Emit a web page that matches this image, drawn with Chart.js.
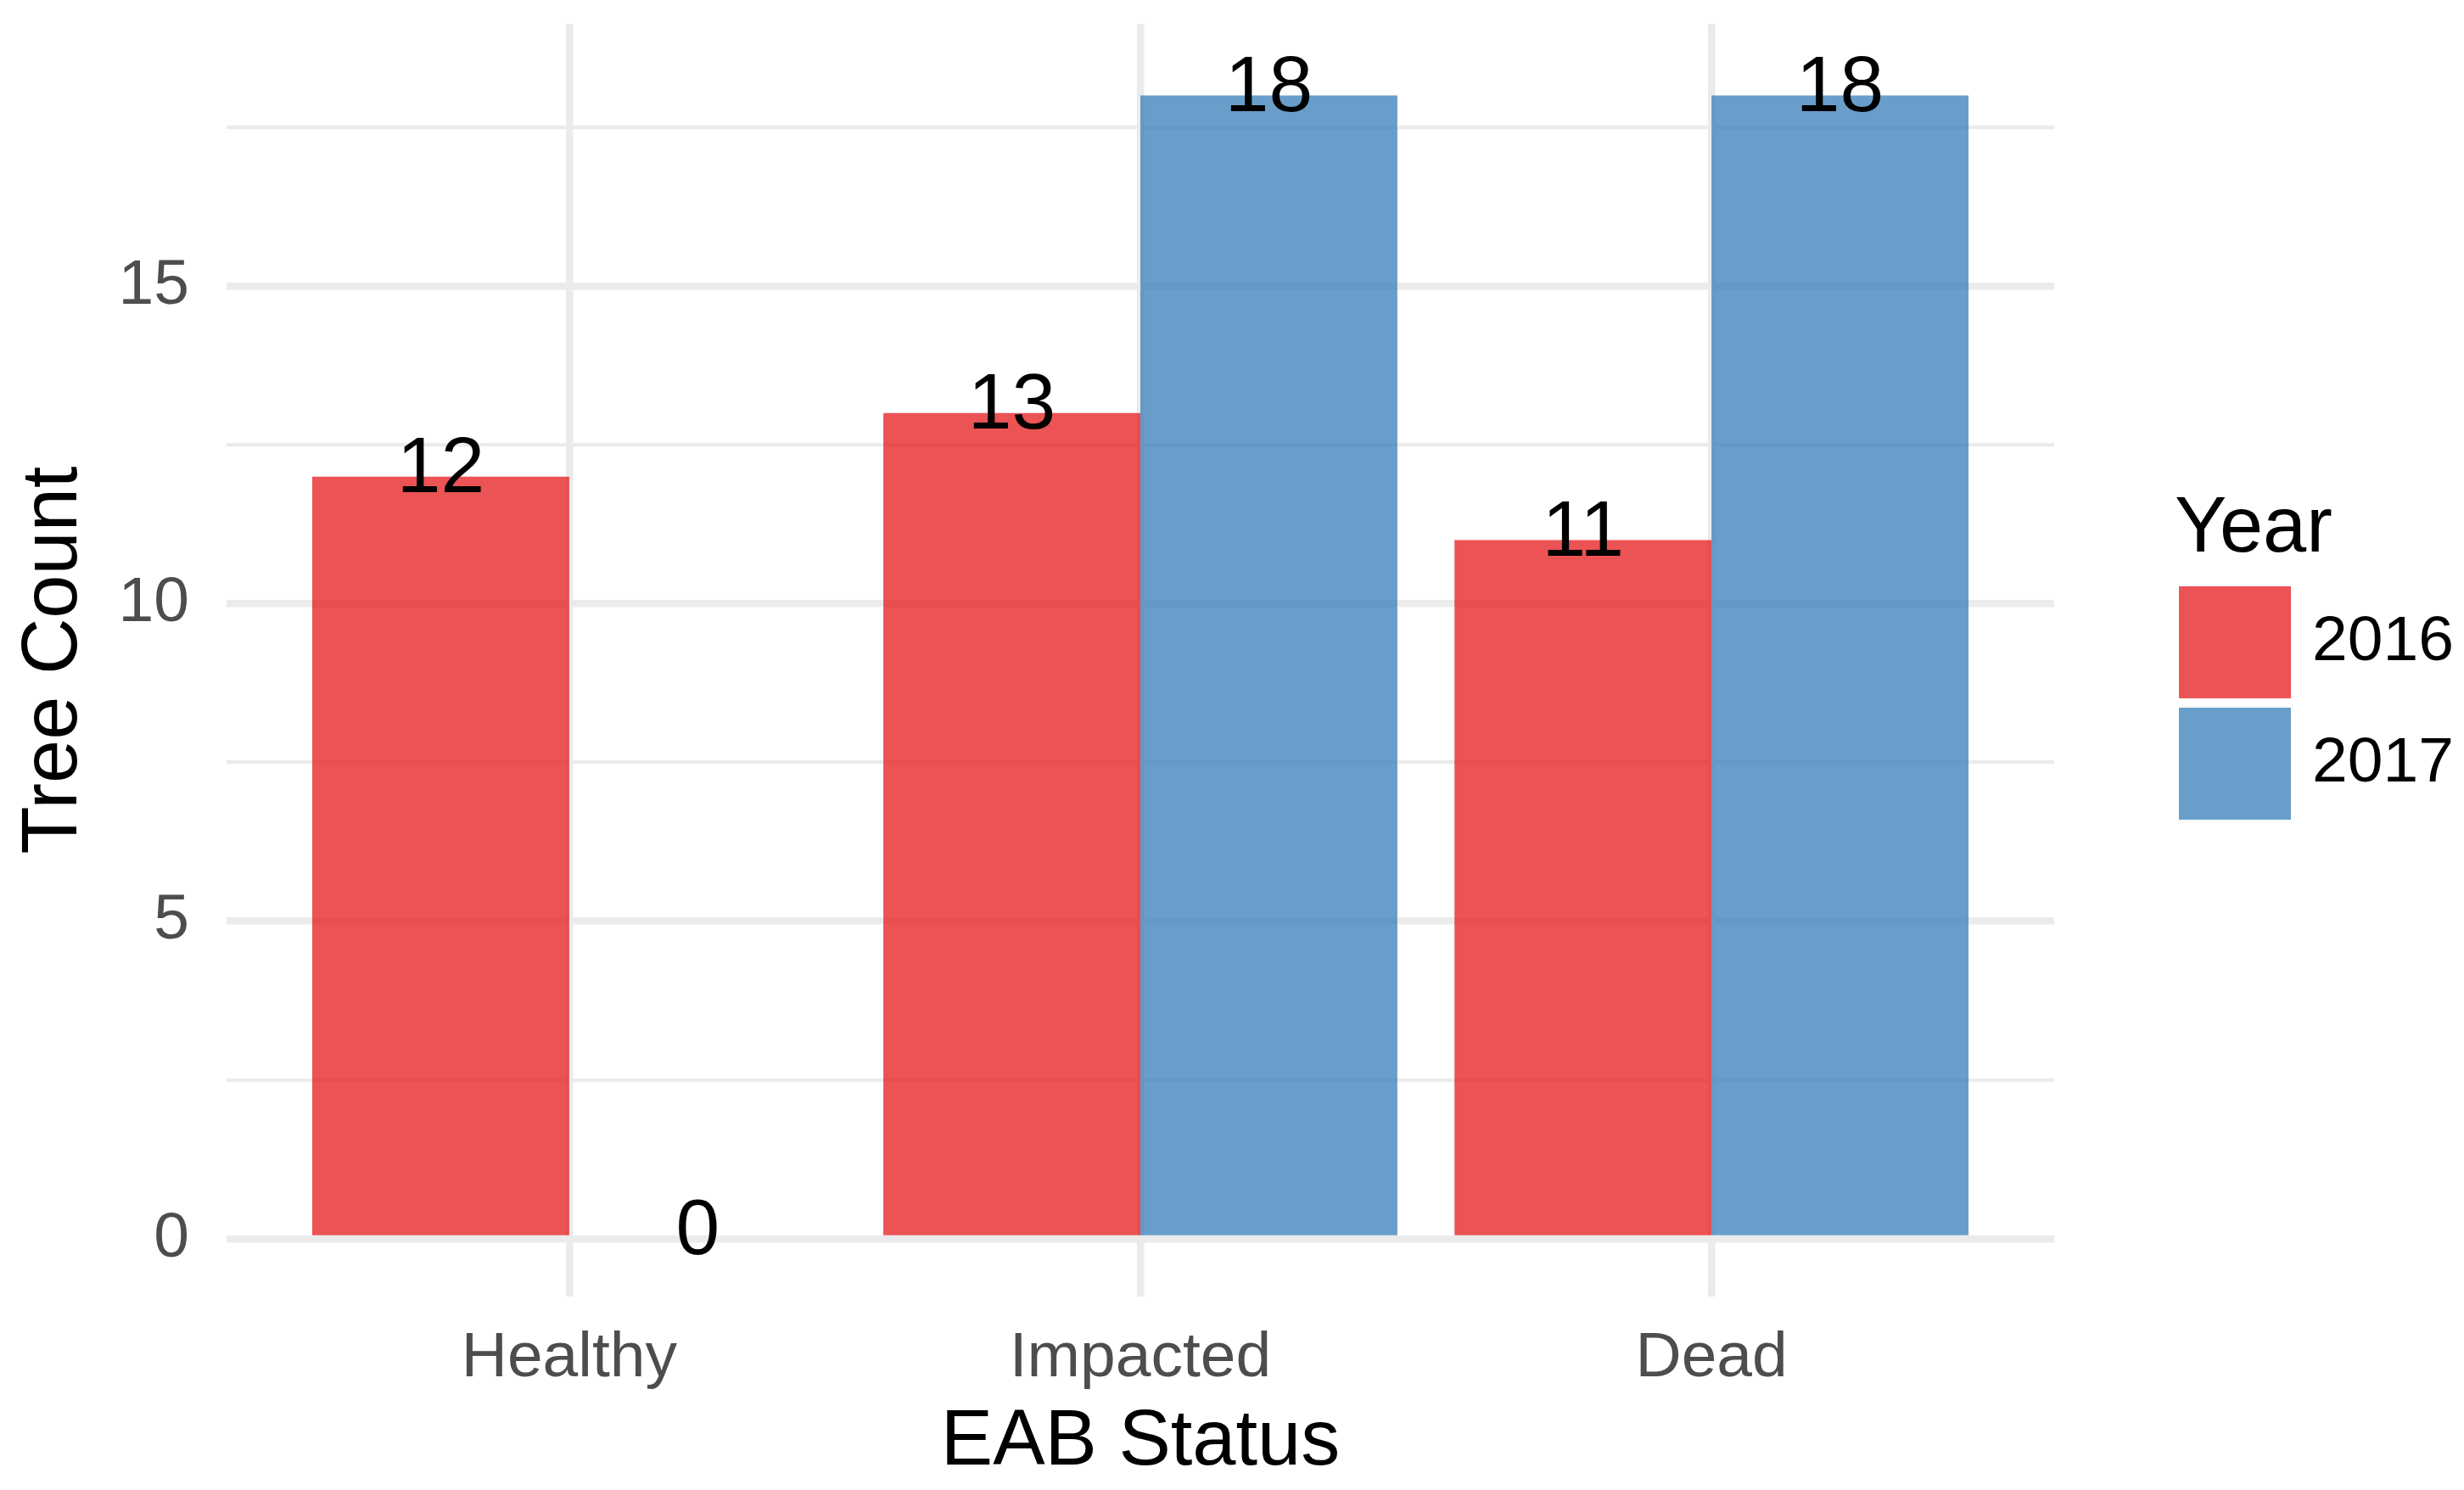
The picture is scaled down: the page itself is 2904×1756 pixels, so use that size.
<!DOCTYPE html>
<html>
<head>
<meta charset="utf-8">
<script src="https://cdn.jsdelivr.net/npm/chart.js@4.4.1/dist/chart.umd.min.js"></script>
<style>
  html, body { margin: 0; padding: 0; background: #fff; }
  #wrap { width: 2904px; height: 1756px; }
</style>
</head>
<body>
<div id="wrap"><canvas id="eabChart"></canvas></div>
<script>
const categories = ['Healthy', 'Impacted', 'Dead'];
const years = ['2016', '2017'];
const counts2016 = [12, 13, 11];
const counts2017 = [0, 18, 18];
const yMajorTicks = [0, 5, 10, 15];
const yMinorTicks = [2.5, 7.5, 12.5, 17.5];

const FONT = "'Liberation Sans', Arial, Helvetica, sans-serif";
const red = 'rgba(228, 26, 28, 0.75)';
const blue = 'rgba(55, 126, 184, 0.75)';
const gridColor = '#EBEBEB';

function toPoints(values) {
  return values.map((v, i) => ({ x: i + 1, y: v }));
}

// count labels over each bar
const barLabels = {
  id: 'barLabels',
  afterDatasetsDraw(chart) {
    const ctx = chart.ctx;
    ctx.save();
    ctx.fillStyle = '#000';
    ctx.font = '93px ' + FONT;
    ctx.textAlign = 'center';
    ctx.textBaseline = 'alphabetic';
    chart.data.datasets.forEach((ds, di) => {
      chart.getDatasetMeta(di).data.forEach((bar, i) => {
        ctx.fillText(String(ds.data[i].y), bar.x, bar.y + 18);
      });
    });
    ctx.restore();
  }
};

// ggplot style legend on the right
const sideLegend = {
  id: 'sideLegend',
  afterDraw(chart) {
    const ctx = chart.ctx;
    const left = chart.chartArea.right + 147;
    ctx.save();
    ctx.fillStyle = '#000';
    ctx.font = '92px ' + FONT;
    ctx.textAlign = 'left';
    ctx.textBaseline = 'alphabetic';
    ctx.fillText('Year', left - 5, 650);
    chart.data.datasets.forEach((ds, i) => {
      const top = 691 + i * 143;
      ctx.fillStyle = ds.backgroundColor;
      ctx.fillRect(left, top, 132, 132);
      ctx.fillStyle = '#000';
      ctx.font = '75px ' + FONT;
      ctx.textBaseline = 'middle';
      ctx.fillText(ds.label, left + 157, top + 66);
    });
    ctx.restore();
  }
};

new Chart(document.getElementById('eabChart'), {
  type: 'bar',
  data: {
    datasets: [
      { label: years[0], data: toPoints(counts2016), backgroundColor: red, borderWidth: 0 },
      { label: years[1], data: toPoints(counts2017), backgroundColor: blue, borderWidth: 0 }
    ]
  },
  options: {
    responsive: true,
    maintainAspectRatio: false,
    devicePixelRatio: 1,
    animation: false,
    layout: { padding: { left: 0, right: 483, top: 28, bottom: 0 } },
    datasets: { bar: { categoryPercentage: 0.9, barPercentage: 1.0 } },
    scales: {
      x: {
        type: 'linear',
        min: 0.4,
        max: 3.6,
        offset: false,
        border: { display: false },
        grid: { color: gridColor, lineWidth: 8.5, drawTicks: false, offset: false },
        afterBuildTicks: (axis) => {
          axis.ticks = categories.map((_, i) => ({ value: i + 1 }));
        },
        afterFit: (axis) => {
          axis.height = 228;
          axis.paddingLeft = 0;
          axis.paddingRight = 0;
        },
        ticks: {
          autoSkip: false,
          maxRotation: 0,
          padding: 28,
          color: '#4D4D4D',
          font: { family: FONT, size: 75 },
          callback: (value) => categories[value - 1] || ''
        },
        title: {
          display: true,
          text: 'EAB Status',
          color: '#000',
          font: { family: FONT, size: 92 },
          padding: { top: 0, bottom: 0 }
        }
      },
      y: {
        min: -0.91,
        max: 19.13,
        border: { display: false },
        grid: {
          color: gridColor,
          drawTicks: false,
          lineWidth: (c) => (c.tick && yMajorTicks.includes(c.tick.value)) ? 8.5 : 4.3
        },
        afterBuildTicks: (axis) => {
          axis.ticks = yMajorTicks.concat(yMinorTicks)
            .sort((a, b) => a - b)
            .map((v) => ({ value: v }));
        },
        afterFit: (axis) => {
          axis.width = 267;
          axis.paddingTop = 0;
          axis.paddingBottom = 0;
        },
        ticks: {
          autoSkip: false,
          padding: 44,
          color: '#4D4D4D',
          font: { family: FONT, size: 75 },
          callback: (value) => yMajorTicks.includes(value) ? String(value) : ''
        },
        title: {
          display: true,
          text: 'Tree Count',
          color: '#000',
          font: { family: FONT, size: 92 },
          padding: { top: 9, bottom: 0 }
        }
      }
    },
    plugins: {
      legend: { display: false },
      tooltip: { enabled: false }
    }
  },
  plugins: [barLabels, sideLegend]
});
</script>
</body>
</html>
